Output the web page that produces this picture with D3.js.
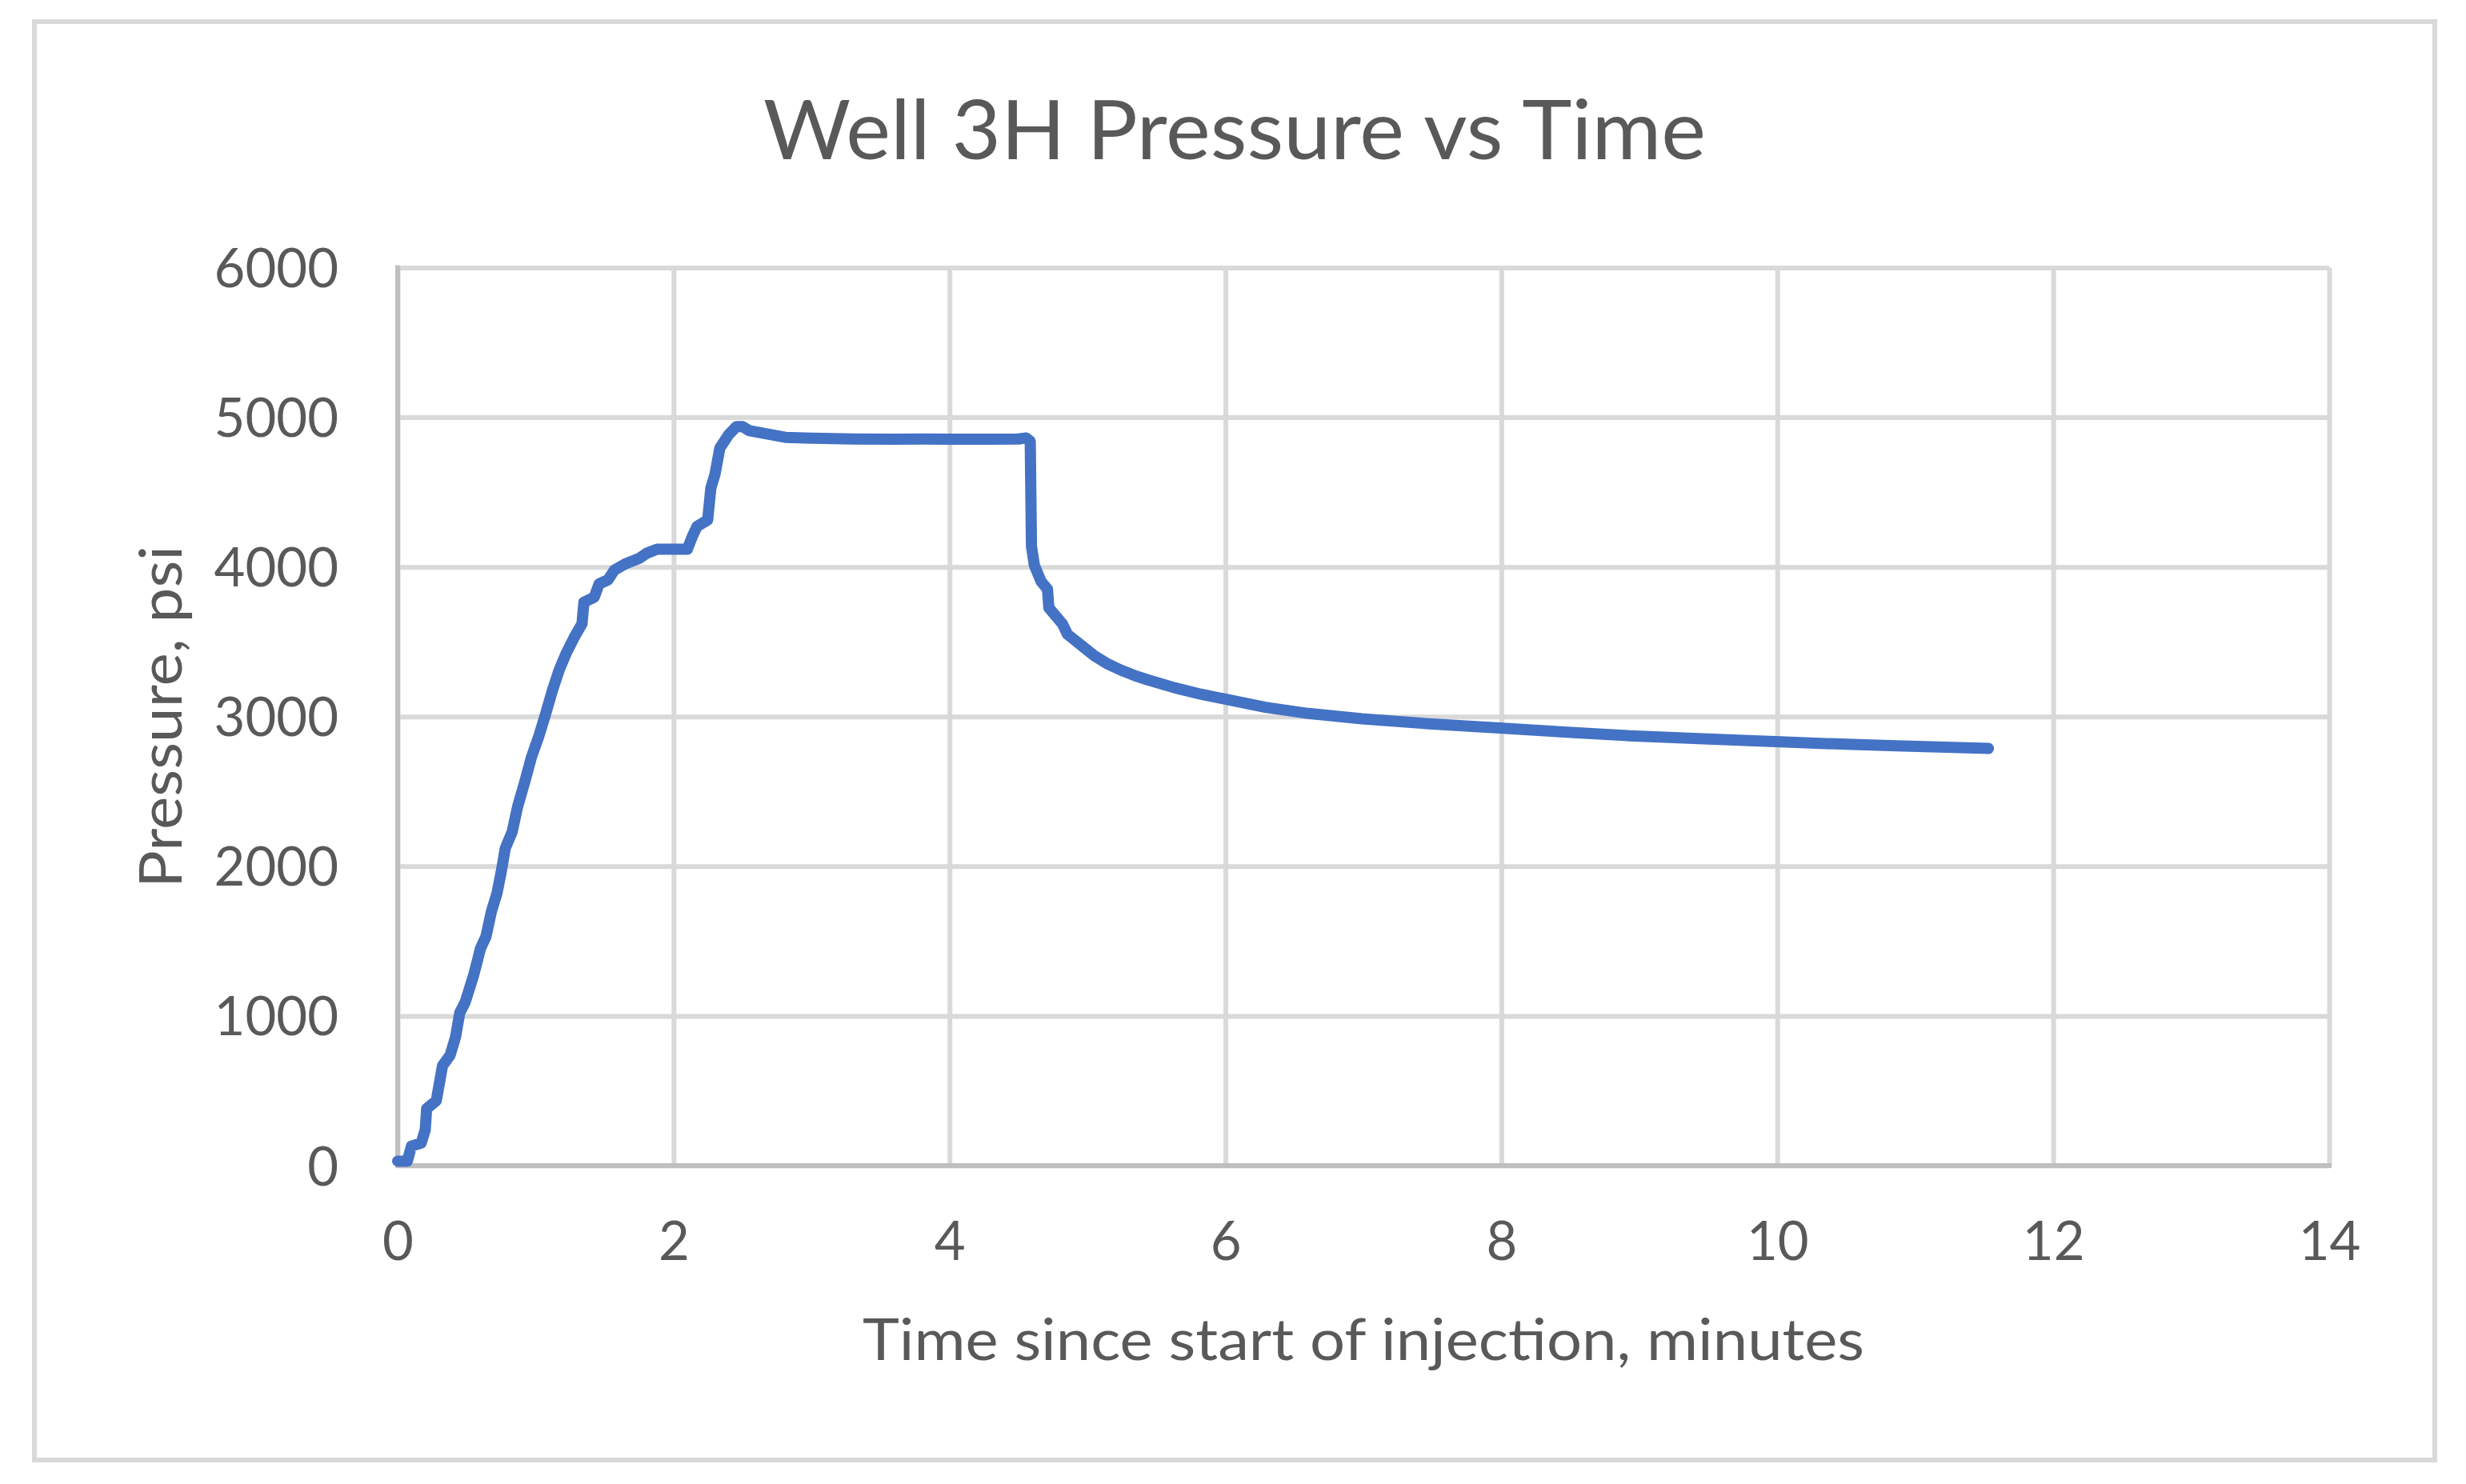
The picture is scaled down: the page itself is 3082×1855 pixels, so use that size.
<!DOCTYPE html>
<html>
<head>
<meta charset="utf-8">
<script src="https://cdn.jsdelivr.net/npm/d3@7"></script>
<style>
    body { margin: 0; background: #ffffff; }
    text { font-family: Lato, "Open Sans", sans-serif; fill: #595959; }
</style>
</head>
<body>
<div id="chart"></div>
<script>
// values
var timeMin = [0, 0.07, 0.1, 0.17, 0.2, 0.21, 0.28, 0.325, 0.38, 0.42, 0.45, 0.49, 0.55, 0.58,
    0.6, 0.64, 0.68, 0.72, 0.75, 0.78, 0.83, 0.87, 0.92, 0.97, 1.02, 1.07, 1.12, 1.17, 1.22, 1.28,
    1.336, 1.35, 1.425, 1.46, 1.525, 1.57, 1.648, 1.75, 1.805, 1.88, 2.1, 2.137, 2.17, 2.247,
    2.27, 2.3, 2.335, 2.4, 2.456, 2.5, 2.55, 2.7, 2.81, 3.0, 3.3, 3.6, 3.8, 4.0, 4.3, 4.5,
    4.555, 4.585, 4.594, 4.615, 4.663, 4.71, 4.72, 4.818, 4.855, 4.954, 5.05, 5.14, 5.244, 5.34, 5.436,
    5.63, 5.82, 6.02, 6.29, 6.6, 6.99, 7.5, 8.01, 8.5, 8.93, 9.5, 10.02, 10.5, 10.86, 11.53];
var pressurePsi = [30, 30, 130, 150, 240, 380, 434, 667, 737, 861, 1021, 1093, 1270, 1377,
    1450, 1530, 1700, 1820, 1960, 2120, 2230, 2400, 2560, 2730, 2860, 3010, 3170, 3310, 3420, 3530,
    3620, 3764, 3798, 3887, 3914, 3978, 4020, 4057, 4091, 4118, 4118, 4207, 4271, 4314,
    4527, 4618, 4794, 4885, 4938, 4938, 4910, 4885, 4866, 4860, 4855, 4853, 4855, 4853, 4853, 4855,
    4862, 4840, 4137, 4011, 3904, 3851, 3727, 3620, 3550, 3477, 3406, 3355, 3310, 3275, 3246,
    3193, 3150, 3113, 3062, 3021, 2985, 2950, 2922, 2895, 2872, 2850, 2831, 2815, 2805, 2787];
var xTicks = [0, 2, 4, 6, 8, 10, 12, 14];
var yTicks = [0, 1000, 2000, 3000, 4000, 5000, 6000];

var cwidth = 3082, cheight = 1855;
var plot = {left: 497, right: 2911, top: 334.5, bottom: 1457};

var dataset = timeMin.map(function(t, i) { return {x: t, y: pressurePsi[i]}; });

var xScale = d3.scaleLinear().domain([0, 14]).range([plot.left, plot.right]);
var yScale = d3.scaleLinear().domain([0, 6000]).range([plot.bottom, plot.top]);

var svg = d3.select("#chart").append("svg")
    .attr("width", cwidth)
    .attr("height", cheight);

// chart area border
svg.append("rect")
    .attr("x", 43).attr("y", 27)
    .attr("width", 3000).attr("height", 1798)
    .attr("fill", "#ffffff")
    .attr("stroke", "#d9d9d9")
    .attr("stroke-width", 6);

svg.append("text")
    .attr("x", 1543).attr("y", 199)
    .attr("text-anchor", "middle")
    .attr("font-size", 102)
    .attr("textLength", 1178)
    .attr("lengthAdjust", "spacingAndGlyphs")
    .text("Well 3H Pressure vs Time");

// horizontal grid + y labels
var yAxis = svg.append("g")
    .attr("class", "y axis")
    .attr("transform", "translate(" + plot.left + ",0)")
    .call(d3.axisLeft(yScale).tickValues(yTicks).tickSize(-(plot.right - plot.left)).tickFormat(d3.format("d")));
yAxis.select(".domain").remove();
yAxis.selectAll("line").attr("stroke", "#d9d9d9").attr("stroke-width", 6);
yAxis.selectAll("text")
    .attr("x", -74).attr("dy", 24)
    .attr("font-size", 67)
    .attr("font-family", "Lato, sans-serif")
    .attr("fill", "#595959");

// vertical grid + x labels
var xAxis = svg.append("g")
    .attr("class", "x axis")
    .attr("transform", "translate(0," + plot.bottom + ")")
    .call(d3.axisBottom(xScale).tickValues(xTicks).tickSize(-(plot.bottom - plot.top)));
xAxis.select(".domain").remove();
xAxis.selectAll("line").attr("stroke", "#d9d9d9").attr("stroke-width", 6);
xAxis.selectAll("text")
    .attr("y", 118).attr("dy", 0)
    .attr("font-size", 67)
    .attr("font-family", "Lato, sans-serif")
    .attr("fill", "#595959");

// axis lines on left and bottom
svg.append("line")
    .attr("x1", xScale(0)).attr("x2", xScale(0))
    .attr("y1", yScale(6000) - 3).attr("y2", yScale(0) + 3)
    .attr("stroke", "#bfbfbf").attr("stroke-width", 6);
svg.append("line")
    .attr("x1", xScale(0) - 3).attr("x2", xScale(14) + 3)
    .attr("y1", yScale(0)).attr("y2", yScale(0))
    .attr("stroke", "#bfbfbf").attr("stroke-width", 6);

var valueLine = d3.line()
    .x(function(d) { return xScale(d.x); })
    .y(function(d) { return yScale(d.y); })
    .curve(d3.curveLinear);

svg.append("path")
    .data([dataset])
    .attr("class", "line")
    .attr("d", valueLine)
    .attr("fill", "none")
    .attr("stroke", "#4472c4")
    .attr("stroke-width", 14)
    .attr("stroke-linecap", "round")
    .attr("stroke-linejoin", "round");

svg.append("text")
    .attr("x", 1704).attr("y", 1700)
    .attr("text-anchor", "middle")
    .attr("font-size", 72)
    .attr("textLength", 1252)
    .attr("lengthAdjust", "spacingAndGlyphs")
    .text("Time since start of injection, minutes");

svg.append("text")
    .attr("transform", "translate(227,896) rotate(-90)")
    .attr("text-anchor", "middle")
    .attr("font-size", 74)
    .attr("textLength", 428)
    .attr("lengthAdjust", "spacingAndGlyphs")
    .text("Pressure, psi");
</script>
</body>
</html>
